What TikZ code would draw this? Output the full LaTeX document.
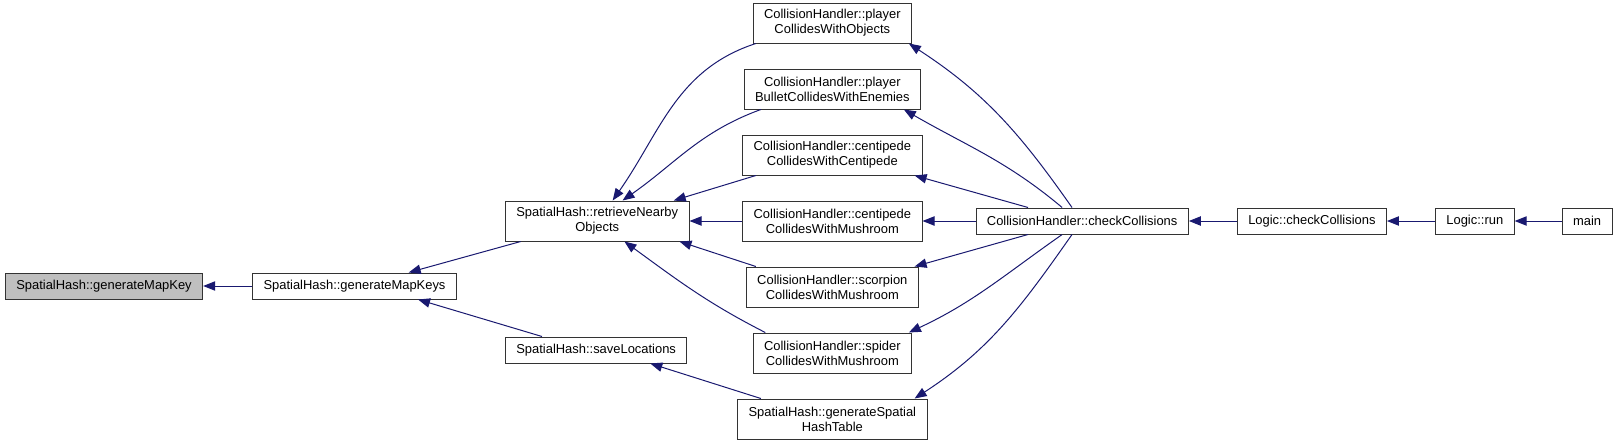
\documentclass[tikz,border=0pt]{standalone}
\usepackage{fontspec}
\setmainfont{Liberation Sans}
\usepackage{xcolor}
\usetikzlibrary{arrows.meta,positioning}
\definecolor{edgeblue}{RGB}{25,25,112}
\definecolor{focusgray}{RGB}{191,191,191}

\begin{document}
\begin{tikzpicture}[
node distance=18.75pt,
fn/.style={draw=black!80, line width=0.75pt, align=center, minimum height=19.5pt, inner xsep=8.2pt, inner ysep=3pt, fill=white, font=\fontsize{9.7}{11.25}\selectfont},
fntwo/.style={fn, minimum height=30pt},
focus/.style={fn, fill=focusgray},
arr/.style={-{Triangle[length=9pt,width=7pt]}, draw=edgeblue, line width=0.75pt}
]
\useasboundingbox (-78pt,-118.5pt) rectangle (1137pt,214.5pt);

\node[focus] (mapkey) {SpatialHash::generateMapKey};
\node[fn, right=36.75pt of mapkey] (mapkeys) {SpatialHash::generateMapKeys};
\node[fntwo, above right=23.25pt and 36pt of mapkeys] (retrieve) {SpatialHash::retrieveNearby\\Objects};
\node[fn, below right=27.75pt and 36pt of mapkeys] (saveloc) {SpatialHash::saveLocations};
\node[fntwo, right=39.5pt of retrieve] (centmush) {CollisionHandler::centipede\\CollidesWithMushroom};
\node[fntwo, above=of centmush] (centcent) {CollisionHandler::centipede\\CollidesWithCentipede};
\node[fntwo, above=of centcent] (bullet) {CollisionHandler::player\\BulletCollidesWithEnemies};
\node[fntwo, above=of bullet] (playerobj) {CollisionHandler::player\\CollidesWithObjects};
\node[fntwo, below=of centmush] (scorpion) {CollisionHandler::scorpion\\CollidesWithMushroom};
\node[fntwo, below=of scorpion] (spider) {CollisionHandler::spider\\CollidesWithMushroom};
\node[fntwo, below=of spider] (hashtable) {SpatialHash::generateSpatial\\HashTable};
\node[fn, right=39.75pt of centmush] (checkcoll) {CollisionHandler::checkCollisions};
\node[fn, right=36pt of checkcoll] (logiccheck) {Logic::checkCollisions};
\node[fn, right=36pt of logiccheck] (logicrun) {Logic::run};
\node[fn, right=35.25pt of logicrun] (main) {main};

\draw[arr] (mapkeys) -- (mapkey);
\draw[arr] (retrieve.195) -- (mapkeys.14);
\draw[arr] (saveloc.166) -- (mapkeys.-12);
\draw[arr] (playerobj.195) to[out=198, in=55] (retrieve.53);
\draw[arr] (bullet.196) to[out=200, in=35] (retrieve.39);
\draw[arr] (centcent.195) -- (retrieve.15);
\draw[arr] (centmush) -- (retrieve);
\draw[arr] (scorpion.165) -- (retrieve.-14);
\draw[arr] (spider.163) to[out=153, in=-36] (retrieve.-37);
\draw[arr] (hashtable.164) -- (saveloc.-14);
\draw[arr] (checkcoll.127) to[out=125, in=-33] (playerobj.-15);
\draw[arr] (checkcoll.146) to[out=140, in=-30] (bullet.-16);
\draw[arr] (checkcoll.166) -- (centcent.-14);
\draw[arr] (checkcoll) -- (centmush);
\draw[arr] (checkcoll.194) -- (scorpion.14);
\draw[arr] (checkcoll.214) to[out=215, in=25] (spider.15);
\draw[arr] (checkcoll.233) to[out=235, in=33] (hashtable.14);
\draw[arr] (logiccheck) -- (checkcoll);
\draw[arr] (logicrun) -- (logiccheck);
\draw[arr] (main) -- (logicrun);
\end{tikzpicture}
\end{document}
